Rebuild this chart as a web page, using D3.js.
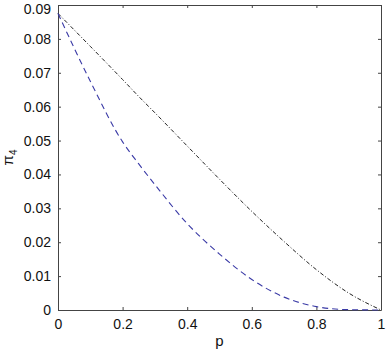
<!DOCTYPE html>
<html lang="en">
<head>
<meta charset="UTF-8" />
<title>pi4 vs p</title>
<script src="https://d3js.org/d3.v7.min.js"></script>
<style>
    body { margin: 0; background: #fff; }
    .tick text { font-family: 'Liberation Sans', Arial, sans-serif; font-size: 14px; fill: #111; }
    .axis-label { font-family: 'Liberation Sans', Arial, sans-serif; font-size: 15px; fill: #111; }
</style>
</head>
<body>
<svg id="chart"></svg>
<script>
    // values
    const pValues = [0, 0.1, 0.2, 0.25, 0.3, 0.4, 0.5, 0.6, 0.7, 0.8, 0.9, 1.0];
    const dashedSeries = [0.0875, 0.0675, 0.0496, 0.0431, 0.0370, 0.0255, 0.0165, 0.0090, 0.0038, 0.0010, 0.0001, 0];
    const dashDotSeries = [0.0875, 0.0778, 0.0680, 0.0630, 0.0582, 0.0484, 0.0386, 0.0291, 0.0202, 0.0119, 0.0050, 0];
    const xTicks = [0, 0.2, 0.4, 0.6, 0.8, 1];
    const yTicks = [0, 0.01, 0.02, 0.03, 0.04, 0.05, 0.06, 0.07, 0.08, 0.09];

    const W = 386, H = 352;
    const margin = { top: 5, right: 5, bottom: 42, left: 58 };
    const width = W - margin.left - margin.right;
    const height = H - margin.top - margin.bottom;

    const svg = d3.select("#chart").attr("width", W).attr("height", H);
    const g = svg.append("g").attr("transform", "translate(" + margin.left + "," + margin.top + ")");

    const x = d3.scaleLinear().domain([0, 1]).range([0, width]);
    const y = d3.scaleLinear().domain([0, 0.09]).range([height, 0]);

    // box axes, ticks pointing inward
    g.append("g").attr("transform", "translate(0," + height + ")")
        .call(d3.axisBottom(x).tickValues(xTicks).tickFormat(d3.format("")).tickSizeInner(-3).tickSizeOuter(0).tickPadding(9));
    const yAxis = g.append("g")
        .call(d3.axisLeft(y).tickValues(yTicks).tickFormat(d3.format("")).tickSizeInner(-3).tickSizeOuter(0).tickPadding(7));
    // keep the top label inside the window
    yAxis.selectAll(".tick text").filter(d => d === 0.09).attr("dy", "0.58em");
    g.append("g")
        .call(d3.axisTop(x).tickValues(xTicks).tickFormat("").tickSizeInner(-3).tickSizeOuter(0));
    g.append("g").attr("transform", "translate(" + width + ",0)")
        .call(d3.axisRight(y).tickValues(yTicks).tickFormat("").tickSizeInner(-3).tickSizeOuter(0));
    g.selectAll(".domain, .tick line").attr("stroke", "#444");

    const line = d3.line()
        .x((d, i) => x(pValues[i]))
        .y(d => y(d))
        .curve(d3.curveMonotoneX);

    g.append("path").datum(dashDotSeries)
        .attr("d", line).attr("fill", "none")
        .attr("stroke", "#222").attr("stroke-width", 1)
        .attr("stroke-dasharray", "4,2,1,2");

    g.append("path").datum(dashedSeries)
        .attr("d", line).attr("fill", "none")
        .attr("stroke", "#3a3aa6").attr("stroke-width", 1.1)
        .attr("stroke-dasharray", "6,4");

    // labels
    svg.append("text").attr("class", "axis-label")
        .attr("x", margin.left + width / 2).attr("y", 346)
        .attr("text-anchor", "middle").text("p");

    const yl = svg.append("text").attr("class", "axis-label")
        .attr("transform", "translate(13," + (margin.top + height / 2) + ") rotate(-90)")
        .attr("text-anchor", "middle");
    yl.append("tspan").text("π");
    yl.append("tspan").attr("font-size", "10px").attr("dy", 4).text("4");
</script>
</body>
</html>
